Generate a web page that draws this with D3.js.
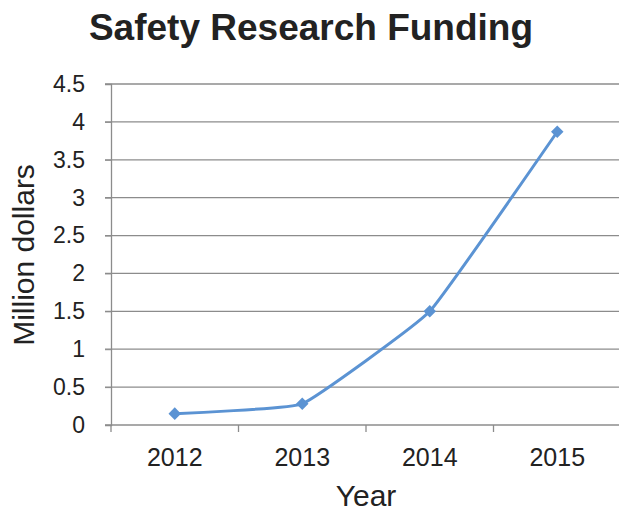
<!DOCTYPE html>
<html>
<head>
<meta charset="utf-8">
<script src="https://cdn.jsdelivr.net/npm/d3@7"></script>
<style>
  body { margin: 0; background: #fff; }
  svg text { font-family: "Liberation Sans", Arial, sans-serif; fill: #222; }
</style>
</head>
<body>
<div class="graf"></div>
<script>
// data
const years = ['2012', '2013', '2014', '2015'];
const funding = [0.15, 0.28, 1.5, 3.87];
const yTicks = [0, 0.5, 1, 1.5, 2, 2.5, 3, 3.5, 4, 4.5];

const width = 619, height = 512;
const plotL = 111, plotR = 621, plotT = 84, plotB = 425;
const gridColor = '#8c8c8c';
const lineColor = '#5b93d3';

let svg = d3.select('.graf')
    .append('svg')
    .attr('width', width)
    .attr('height', height);

let x = d3.scaleBand().domain(years).range([plotL, plotR]).padding(0);
let y = d3.scaleLinear().domain([0, 4.5]).range([plotB, plotT]);

// gridlines
svg.append('g')
    .selectAll('line')
    .data(yTicks)
    .join('line')
    .attr('x1', plotL - 6)
    .attr('x2', plotR)
    .attr('y1', d => y(d))
    .attr('y2', d => y(d))
    .attr('stroke', gridColor)
    .attr('stroke-width', 1.3);

// y axis
let yAxis = svg.append('g')
    .attr('transform', `translate(${plotL},0)`)
    .call(d3.axisLeft(y).tickValues(yTicks).tickSize(6).tickPadding(20).tickFormat(d3.format('')));
yAxis.select('.domain').attr('stroke', gridColor).attr('stroke-width', 1.3);
yAxis.selectAll('line').attr('stroke', gridColor);
yAxis.selectAll('text').style('font-size', '23px').attr('fill', '#222');

// x axis (ticks at category boundaries)
let xAxis = svg.append('g')
    .attr('transform', `translate(0,${plotB})`)
    .call(d3.axisBottom(x).tickSize(0).tickPadding(23));
xAxis.select('.domain').remove();
xAxis.selectAll('text').style('font-size', '25px').attr('fill', '#222');
svg.append('g')
    .selectAll('line')
    .data(years.map(d => x(d)).concat([plotR]))
    .join('line')
    .attr('x1', d => d).attr('x2', d => d)
    .attr('y1', plotB).attr('y2', plotB + 7)
    .attr('stroke', gridColor)
    .attr('stroke-width', 1.3);

// line
let line = d3.line()
    .x((d, i) => x(years[i]) + x.bandwidth() / 2)
    .y(d => y(d))
    .curve(d3.curveCardinal.tension(0.7));

svg.append('path')
    .datum(funding)
    .attr('d', line)
    .attr('fill', 'none')
    .attr('stroke', lineColor)
    .attr('stroke-width', 3);

svg.append('g')
    .selectAll('path')
    .data(funding)
    .join('path')
    .attr('d', d3.symbol().type(d3.symbolDiamond2).size(100))
    .attr('transform', (d, i) => `translate(${x(years[i]) + x.bandwidth() / 2},${y(d)})`)
    .attr('fill', lineColor);

// titles
svg.append('text')
    .attr('x', 311).attr('y', 40)
    .attr('text-anchor', 'middle')
    .style('font-size', '37px')
    .style('font-weight', 'bold')
    .attr('fill', '#000')
    .text('Safety Research Funding');

svg.append('text')
    .attr('x', 366).attr('y', 506)
    .attr('text-anchor', 'middle')
    .style('font-size', '30px')
    .text('Year');

svg.append('text')
    .attr('transform', `translate(34,255) rotate(-90)`)
    .attr('text-anchor', 'middle')
    .style('font-size', '30px')
    .text('Million dollars');
</script>
</body>
</html>
